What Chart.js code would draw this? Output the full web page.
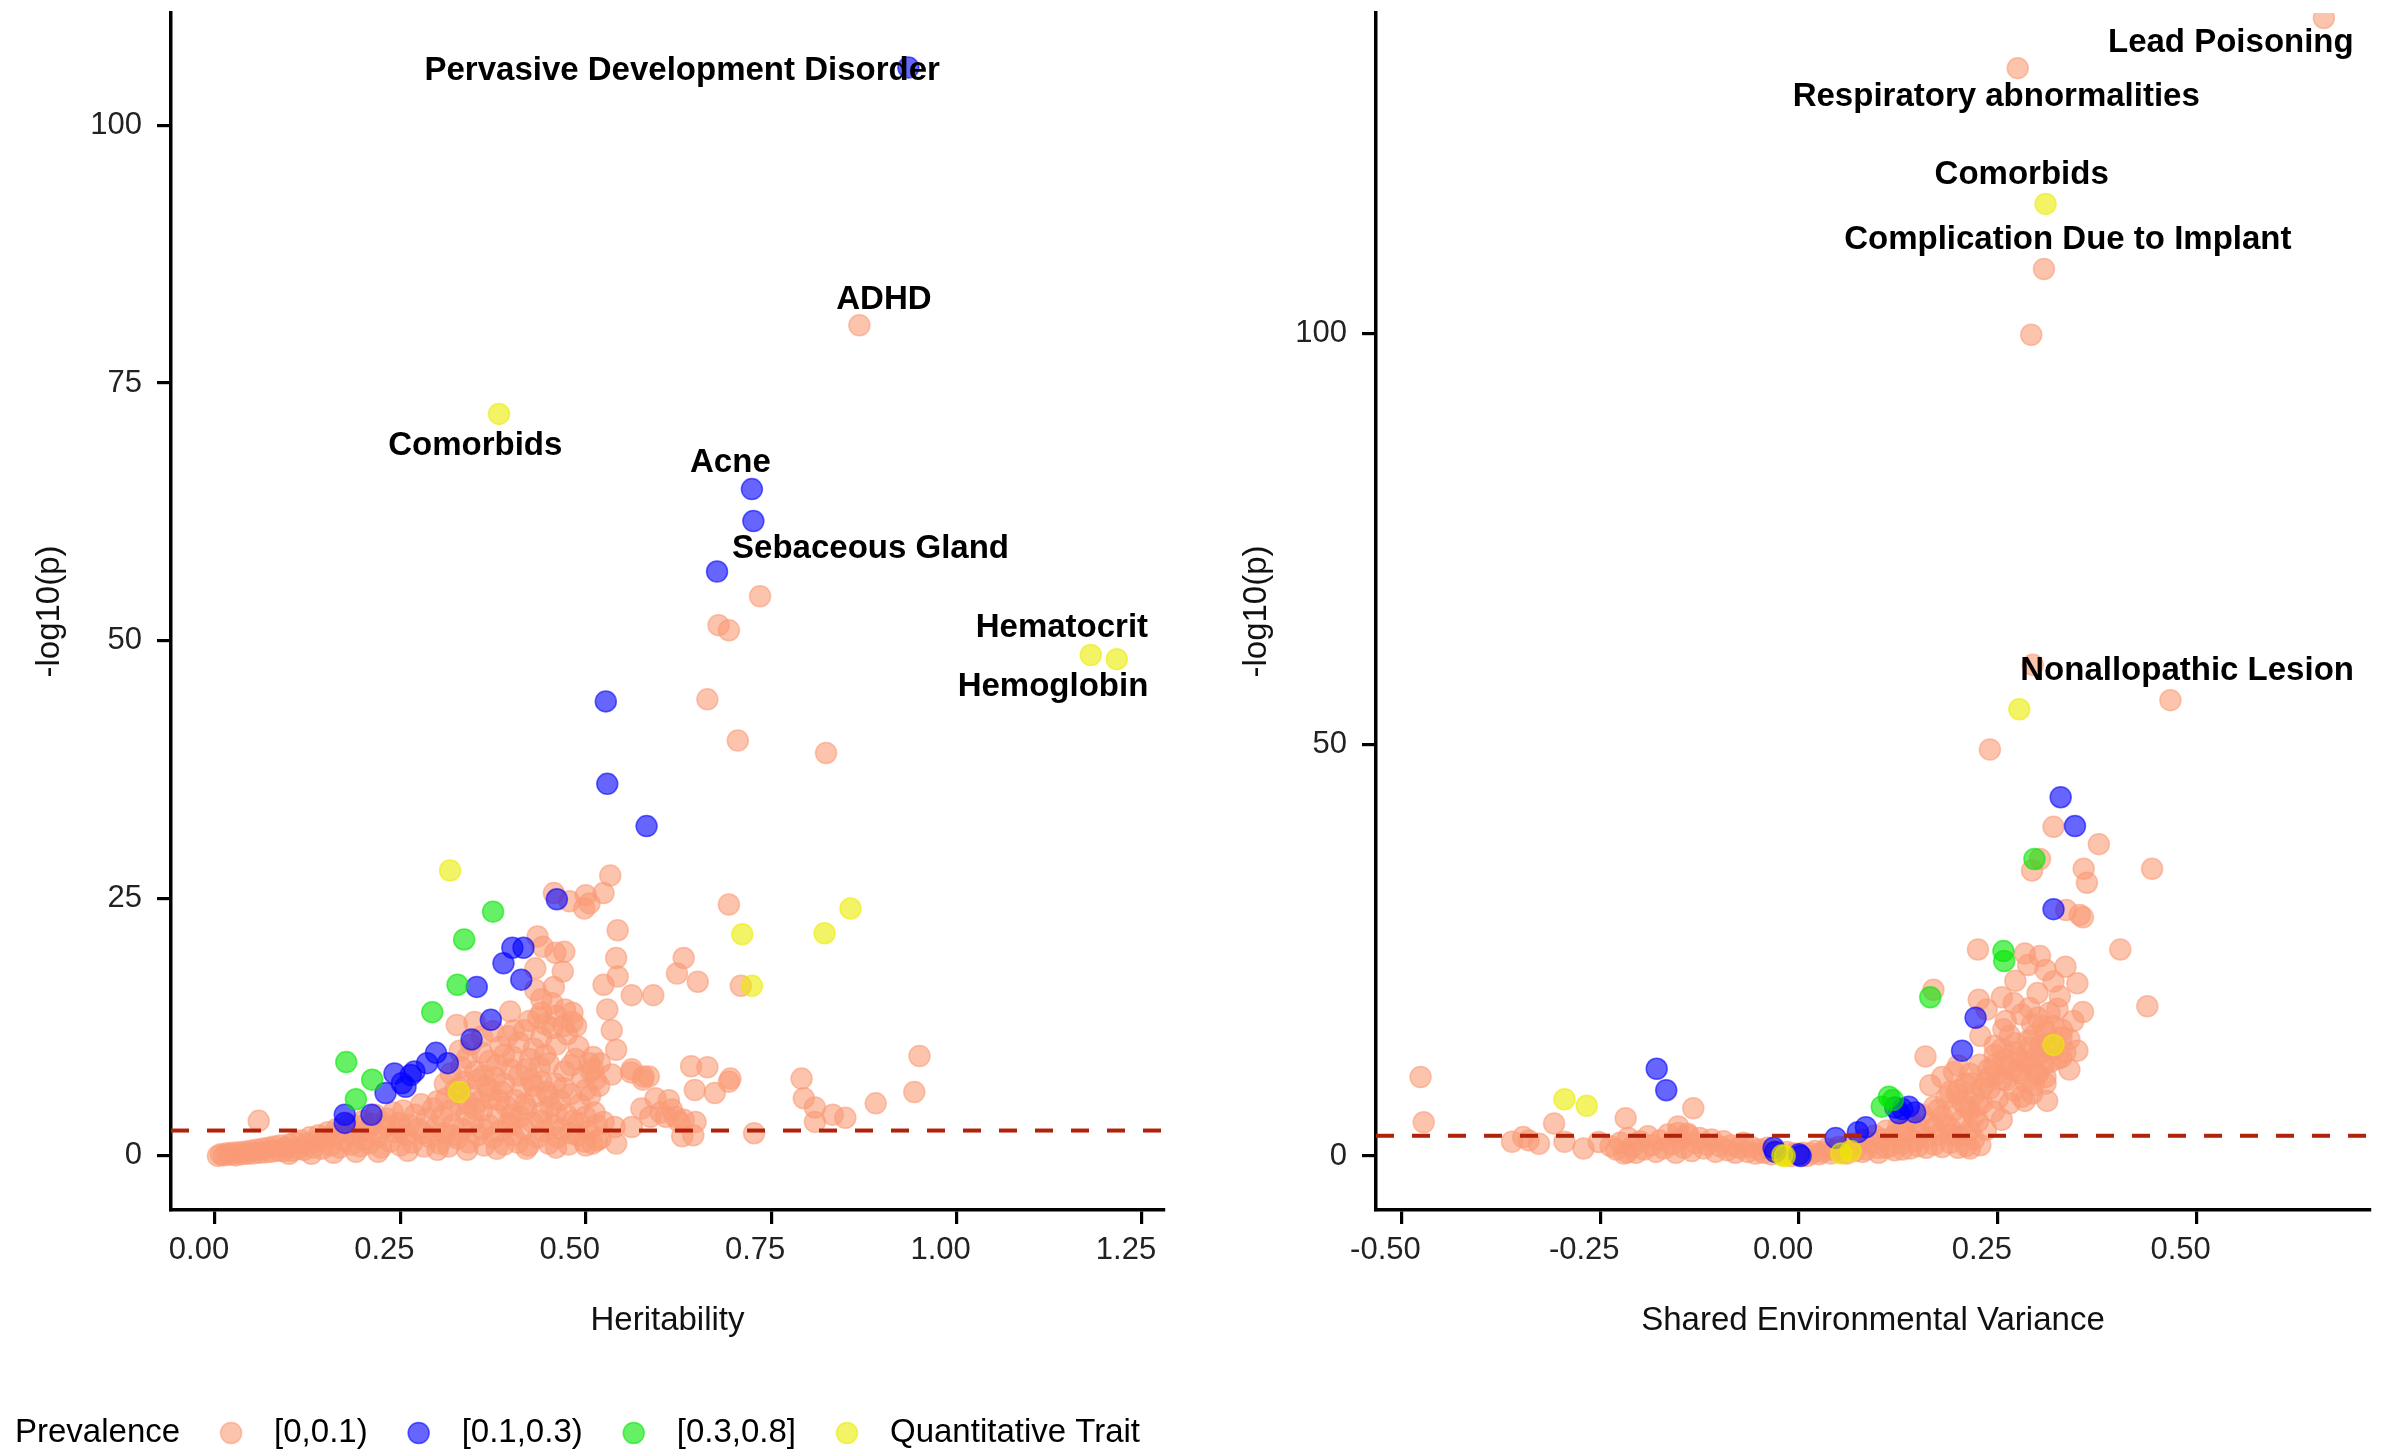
<!DOCTYPE html>
<html>
<head>
<meta charset="utf-8">
<script src="https://cdn.jsdelivr.net/npm/chart.js@4.4.0/dist/chart.umd.min.js"></script>
<style>
  html, body { margin: 0; padding: 0; background: #fff; }
  body { width: 2386px; height: 1453px; position: relative; overflow: hidden; }
  #left { position: absolute; left: 0; top: 0; }
  #right { position: absolute; left: 1190px; top: 0; }
</style>
</head>
<body>
<canvas id="left" width="1190" height="1453"></canvas>
<canvas id="right" width="1196" height="1360"></canvas>
<script>
// ---- data ----
const prevCategories = ["[0,0.1)", "[0.1,0.3)", "[0.3,0.8]", "Quantitative Trait"];
const legendTitle = "Prevalence";
const threshold = 2.46;

const heritTicksX = [0, 0.25, 0.5, 0.75, 1, 1.25];
const heritTicksY = [0, 25, 50, 75, 100];
const envTicksX = [-0.5, -0.25, 0, 0.25, 0.5];
const envTicksY = [0, 50, 100];

const heritRangeX = [-0.0593, 1.2797];
const heritRangeY = [-5.25, 110.9];
const envRangeX = [-0.532, 0.718];
const envRangeY = [-6.56, 138.9];

const heritLabelText = ["Pervasive Development Disorder", "ADHD", "Comorbids", "Acne", "Sebaceous Gland", "Hematocrit", "Hemoglobin"];
const heritLabelX = [0.630, 0.902, 0.351, 0.695, 0.884, 1.142, 1.130];
const heritLabelY = [105.3, 83.1, 68.9, 67.2, 58.9, 51.2, 45.5];

const envLabelText = ["Lead Poisoning", "Respiratory abnormalities", "Comorbids", "Complication Due to Implant", "Nonallopathic Lesion"];
const envLabelX = [0.543, 0.248, 0.280, 0.338, 0.488];
const envLabelY = [135.3, 128.7, 119.2, 111.3, 58.95];

// heritability panel, prevalence [0,0.1)
const herLow = [
  [0.869,80.6],[0.735,54.3],[0.679,51.5],[0.693,51.0],[0.664,44.3],[0.705,40.3],[0.824,39.1],[0.533,27.2],
  [0.457,25.5],[0.478,24.7],[0.500,25.3],[0.524,25.5],[0.498,24.0],[0.505,24.5],[0.693,24.4],[0.543,21.9],
  [0.435,21.3],[0.442,20.3],[0.459,19.7],[0.471,19.8],[0.432,18.2],[0.469,17.9],[0.457,16.4],[0.432,16.1],
  [0.541,19.2],[0.543,17.4],[0.524,16.6],[0.562,15.6],[0.591,15.6],[0.632,19.2],[0.623,17.7],[0.651,16.9],[0.709,16.5],
  [0.529,14.2],[0.535,12.2],[0.541,10.3],
  [0.455,14.8],[0.472,14.2],[0.482,13.9],[0.487,12.6],[0.44,13.9],[0.445,12.8],[0.436,13.4],[0.424,13.1],[0.398,14.0],[0.417,12.2],[0.403,12.2],
  [0.326,12.7],[0.35,13.0],[0.375,12.1],[0.34,9.5],[0.332,8.6],[0.36,10.0],[0.345,10.8],[0.37,9.2],[0.355,7.4],
  [0.385,10.6],[0.395,11.6],[0.38,8.8],[0.402,9.6],[0.43,10.4],[0.44,11.5],[0.425,9.4],[0.445,9.8],
  [0.46,10.8],[0.475,11.8],[0.49,10.6],[0.482,13.0],[0.455,12.4],
  [0.004,0.0],[0.008,0.15],[0.012,0.05],[0.016,0.25],[0.02,0.1],[0.024,0.3],[0.028,0.05],[0.032,0.35],[0.036,0.15],[0.04,0.4],[0.044,0.2],[0.048,0.5],[0.052,0.25],
  [0.056,0.6],[0.06,0.3],[0.064,0.7],[0.068,0.35],[0.072,0.8],[0.076,0.4],[0.08,0.9],[0.084,0.5],[0.088,1.0],[0.092,0.45],[0.096,0.8],[0.1,1.1],
  [0.104,0.5],[0.108,1.3],[0.112,0.7],[0.116,1.5],[0.12,0.6],[0.124,1.2],[0.128,1.8],[0.132,0.8],[0.136,1.4],[0.14,2.0],[0.144,0.7],[0.148,1.6],[0.152,2.3],
  [0.156,1.0],[0.16,1.9],[0.164,2.6],[0.168,0.8],[0.172,1.5],[0.176,2.4],[0.18,3.0],[0.184,1.1],[0.188,2.0],[0.192,2.9],[0.196,0.9],[0.2,1.6],[0.2,3.4],
  [0.204,2.4],[0.208,1.2],[0.212,3.1],[0.216,4.0],[0.22,1.9],[0.224,0.8],[0.228,2.7],[0.232,3.6],[0.236,1.4],[0.24,4.2],[0.244,2.3],[0.248,3.2],[0.25,1.0],
  [0.254,4.4],[0.258,2.0],[0.262,3.0],[0.266,1.3],[0.27,4.0],[0.274,2.6],[0.278,5.0],[0.282,0.9],[0.286,3.6],[0.29,1.8],[0.294,4.6],[0.298,2.8],[0.3,5.3],
  [0.303,1.2],[0.306,3.8],[0.309,2.2],[0.312,5.6],[0.315,0.9],[0.318,4.4],[0.321,3.0],[0.324,6.4],[0.327,1.7],[0.33,5.0],[0.333,2.6],[0.336,7.2],[0.339,4.0],
  [0.342,1.3],[0.345,6.0],[0.348,3.3],[0.351,8.2],[0.354,2.0],[0.357,5.3],
  [0.36,4.4],[0.363,1.0],[0.366,6.8],[0.369,3.0],[0.372,5.6],[0.375,1.8],[0.378,7.6],[0.381,4.0],[0.384,2.4],[0.387,6.2],[0.39,1.1],[0.393,4.8],[0.396,3.2],[0.399,8.4],
  [0.402,2.0],[0.405,5.4],[0.408,1.3],[0.411,3.8],[0.414,6.6],[0.417,2.6],[0.42,4.6],[0.423,1.0],[0.426,7.4],[0.429,3.2],[0.432,5.8],[0.435,1.8],[0.438,8.6],
  [0.441,4.2],[0.444,2.4],[0.447,6.2],
  [0.45,1.2],[0.453,4.8],[0.456,3.0],[0.459,7.0],[0.462,1.8],[0.465,5.4],[0.468,2.6],[0.471,8.2],[0.474,4.0],[0.477,1.1],[0.48,6.0],[0.483,3.4],[0.486,9.4],
  [0.489,2.0],[0.492,5.0],[0.495,7.6],[0.498,1.4],[0.5,3.8],
  [0.503,2.4],[0.506,5.8],[0.509,1.2],[0.512,4.2],[0.515,3.0],[0.518,6.8],[0.507,8.2],[0.513,7.4],[0.52,1.7],[0.51,9.6],
  [0.31,7.0],[0.318,8.0],[0.33,6.6],[0.34,5.2],[0.35,4.6],[0.362,7.8],[0.37,6.4],[0.383,5.4],[0.39,7.0],[0.4,4.0],
  [0.41,7.8],[0.418,5.0],[0.43,6.8],[0.44,7.2],[0.45,5.8],[0.46,4.2],[0.47,6.6],[0.48,8.8],[0.49,3.2],[0.5,6.4],
  [0.505,9.0],[0.33,10.2],[0.36,11.6],[0.39,9.8],[0.42,8.4],[0.45,9.0],[0.47,12.6],[0.44,15.2],[0.46,13.6],[0.41,11.0],
  [0.22,0.4],[0.26,0.5],[0.3,0.6],[0.34,0.6],[0.38,0.7],[0.42,0.7],[0.46,0.8],[0.5,1.0],[0.16,0.3],[0.19,0.4],[0.13,0.2],[0.1,0.2],
  [0.28,2.2],[0.32,2.0],[0.36,2.6],[0.4,3.0],[0.44,3.4],[0.48,2.2],[0.25,2.6],[0.23,3.0],
  [0.524,3.3],[0.539,2.8],[0.541,1.2],[0.515,1.5],[0.575,4.6],[0.562,2.8],[0.587,3.8],[0.519,9.0],[0.562,8.4],[0.578,7.7],[0.594,5.6],[0.601,4.2],
  [0.608,3.8],[0.632,3.5],[0.63,1.9],[0.642,8.7],[0.647,6.4],[0.535,7.9],[0.51,8.4],[0.561,8.1],[0.585,7.7],[0.577,7.4],
  [0.612,5.4],[0.616,4.5],[0.621,3.8],[0.626,3.3],[0.648,3.3],[0.645,2.0],[0.674,6.1],[0.693,7.2],[0.727,2.2],[0.794,5.6],[0.809,4.7],[0.809,3.3],
  [0.833,4.0],[0.85,3.7],[0.891,5.1],[0.943,6.2],[0.664,8.6],[0.695,7.5],[0.95,9.7],[0.791,7.5],[0.059,3.4]
];
const herMid = [
  [0.935,105.6],[0.724,64.7],[0.726,61.6],[0.677,56.7],[0.527,44.1],[0.529,36.1],[0.582,32.0],[0.461,24.9],
  [0.401,20.2],[0.416,20.2],[0.389,18.7],[0.413,17.1],[0.353,16.4],[0.372,13.2],[0.346,11.3],[0.298,10.0],
  [0.314,9.0],[0.286,9.0],[0.269,8.2],[0.264,7.85],[0.242,8.0],[0.252,7.05],[0.257,6.7],[0.23,6.1],
  [0.175,4.0],[0.175,3.2],[0.211,4.0]
];
const herHigh = [
  [0.375,23.7],[0.336,21.0],[0.327,16.6],[0.293,13.95],[0.177,9.1],[0.212,7.4],[0.19,5.5]
];
const herQuant = [
  [0.383,72.0],[1.181,48.6],[1.216,48.2],[0.317,27.7],[0.857,24.0],[0.711,21.5],[0.822,21.6],[0.724,16.5],[0.329,6.2]
];

// shared environment panel
const envLow = [
  [0.660,138.3],[0.275,132.2],[0.308,107.8],[0.292,99.8],[0.294,59.7],[0.467,55.4],[0.240,49.4],[0.320,40.0],[0.377,37.9],
  [0.303,36.1],[0.293,34.7],[0.358,34.9],[0.362,33.2],[0.444,34.9],[0.336,29.9],[0.353,29.3],[0.357,29.0],[0.404,25.1],
  [0.225,25.1],[0.284,24.6],[0.303,24.3],[0.288,23.2],[0.272,21.3],[0.169,20.2],[0.226,19.0],[0.255,19.3],[0.236,17.8],
  [0.328,19.4],[0.325,17.9],[0.357,17.5],[0.438,18.2],[0.159,12.1],[0.34,10.5],
  [0.293,16.0],[0.307,15.8],[0.331,15.3],[0.257,15.4],[0.265,14.6],[0.228,14.6],[0.272,13.7],[0.246,13.4],[0.288,14.0],[0.303,13.4],
  [0.246,12.3],[0.257,11.7],[0.298,12.0],[0.307,11.1],[0.300,10.0],[0.310,8.8],[0.293,7.6],[0.284,6.7],[0.312,6.7],[0.279,10.0],
  [0.238,10.5],[0.255,9.3],[0.227,11.1],[0.217,8.8],[0.198,7.6],
  [0.235,9.0],[0.245,11.0],[0.255,13.0],[0.265,10.6],[0.275,12.0],[0.285,11.4],[0.295,14.6],[0.3,16.8],[0.31,13.6],[0.32,15.8],
  [0.33,12.0],[0.34,14.2],[0.315,17.4],[0.345,16.4],[0.35,12.8],[0.26,16.4],[0.28,17.2],[0.27,18.6],[0.29,18.0],[0.3,19.8],
  [0.32,21.2],[0.31,22.6],[0.335,23.0],[0.35,21.0],
  [-0.476,9.6],[-0.472,4.1],[-0.308,3.96],[-0.218,4.6],[-0.133,5.8],[-0.361,1.74],[-0.347,2.3],[-0.327,1.5],[-0.295,1.74],
  [-0.271,0.9],[-0.252,1.7],[-0.237,1.2],[-0.216,0.45],[-0.152,3.6],[-0.152,2.8],[-0.34,1.9],[-0.14,2.7],
  [-0.23,0.8],[-0.225,1.6],[-0.22,0.3],[-0.215,2.2],[-0.21,1.1],[-0.205,0.4],[-0.2,1.8],[-0.195,0.8],[-0.19,2.4],[-0.185,1.3],
  [-0.18,0.5],[-0.175,1.9],[-0.17,0.9],[-0.165,2.6],[-0.16,1.4],[-0.155,0.4],[-0.15,2.0],[-0.145,1.0],[-0.14,2.5],[-0.135,0.6],
  [-0.13,1.6],[-0.125,2.2],[-0.12,0.9],[-0.115,1.4],[-0.11,2.0],[-0.105,0.5],[-0.1,1.2],[-0.095,1.8],[-0.09,0.7],[-0.085,1.3],
  [-0.08,0.4],[-0.075,1.0],[-0.07,1.6],[-0.065,0.5],[-0.06,1.1],[-0.055,0.3],[-0.05,0.8],[-0.045,0.4],[-0.04,1.0],[-0.035,0.2],
  [-0.03,0.6],[-0.025,0.3],[-0.02,0.1],[-0.015,0.5],[-0.01,0.0],[-0.005,0.3],[0.0,0.1],[0.005,0.4],[0.01,0.0],[0.015,0.3],
  [0.02,0.6],[0.025,0.2],[0.03,0.5],[0.035,0.9],[0.04,0.3],[0.045,0.7],[0.05,1.1],[0.055,0.4],[0.06,1.0],[0.065,1.5],
  [0.07,0.6],[0.075,1.3],[0.08,2.0],[0.085,0.8],[0.09,1.6],[0.095,2.5],[0.1,1.0],[0.105,2.0],[0.11,3.1],[0.115,1.3],
  [0.12,2.5],[0.125,3.6],[0.13,1.5],[0.135,2.9],[0.14,4.3],[0.145,1.8],[0.15,3.4],[0.155,5.0],[0.16,2.2],[0.165,4.0],
  [0.17,6.0],[0.175,2.6],[0.18,4.8],[0.185,7.0],[0.19,1.6],[0.19,3.4],[0.195,5.6],[0.165,8.6],[0.18,9.6],[0.195,10.2],
  [0.06,0.3],[0.08,0.5],[0.1,0.4],[0.12,0.7],[0.14,0.9],[0.16,1.0],[0.18,1.1],[0.2,1.0],[0.215,0.9],
  [0.11,1.0],[0.13,0.8],[0.15,1.2],[0.17,1.4],[0.19,2.6],[0.21,2.6],[0.17,3.4],[0.15,2.6],[0.13,3.2],[0.22,4.8],
  [0.21,6.0],[0.225,6.2],[0.23,8.2],[0.215,10.0],[0.2,11.0],[0.19,7.8],[0.175,5.6],[0.185,3.8],
  [0.2,8.0],[0.2,2.4],[0.205,4.4],[0.205,6.6],[0.21,1.2],[0.21,8.8],[0.215,3.2],[0.215,5.6],[0.22,2.0],[0.22,7.4],
  [0.225,4.2],[0.228,1.3],[0.23,6.4],[0.235,3.2],[0.24,8.2],[0.245,5.4],[0.25,7.0],[0.255,4.4],[0.26,9.2],[0.265,6.4],
  [0.27,8.0],[0.275,10.4],[0.28,7.2],[0.285,9.0],[0.29,11.2],[0.295,8.6],[0.3,10.0],[0.305,12.6],[0.31,9.6],[0.315,11.4],
  [0.32,13.0],[0.325,11.8],[0.33,14.4],[0.335,12.6],[0.31,15.0],[0.29,13.2],[0.28,11.6],[0.27,12.6],[0.26,11.0],[0.25,10.0],[0.24,9.6]
];
const envMid = [
  [0.329,43.6],[0.347,40.1],[0.320,30.0],[0.222,16.8],[0.205,12.8],[-0.179,10.6],[-0.167,8.0],
  [0.121,5.9],[0.138,6.0],[0.146,5.3],[0.126,5.2],[0.13,5.7],[-0.032,1.0],[-0.03,0.5],[0.0,0.2],[0.002,0.0],
  [0.046,2.2],[0.074,2.9],[0.084,3.5]
];
const envHigh = [
  [0.296,36.1],[0.257,24.9],[0.258,23.7],[0.165,19.3],[0.113,7.2],[0.118,6.8],[0.104,6.0]
];
const envQuant = [
  [0.310,115.7],[0.277,54.3],[0.320,13.5],[-0.295,6.9],[-0.267,6.1],[-0.021,0.1],[-0.018,0.0],[0.053,0.3],[0.065,0.6]
];

// ---- styling ----
const FONT = '"Liberation Sans", Arial, Helvetica, sans-serif';
const prevColors = ["rgba(250,155,118,0.6)", "rgba(0,0,255,0.6)", "rgba(0,230,0,0.6)", "rgba(235,235,0,0.6)"];
const dotRadius = 10.5;

function toXY(arr) {
  return arr.map(p => ({ x: p[0], y: p[1] }));
}

function pointSet(label, arr, color) {
  return {
    label: label,
    data: toXY(arr),
    backgroundColor: color,
    borderColor: color,
    borderWidth: 1.5,
    pointRadius: dotRadius,
    clip: 0
  };
}

function thresholdLine(xr) {
  return {
    type: "line",
    label: "threshold",
    data: [{ x: xr[0], y: threshold }, { x: xr[1], y: threshold }],
    borderColor: "#B2210A",
    borderWidth: 4,
    borderDash: [18, 18],
    pointRadius: 0,
    fill: false
  };
}

function makeScales(xr, yr, xTicks, yTicks, xTitle, yWidth, yTitlePad) {
  const tickGrid = {
    drawOnChartArea: false, drawTicks: true, tickLength: 14,
    tickWidth: 3.2, tickColor: "#000", color: "#000", lineWidth: 3.2
  };
  return {
    x: {
      type: "linear", min: xr[0], max: xr[1],
      afterBuildTicks: s => { s.ticks = xTicks.map(v => ({ value: v })); },
      afterFit: s => { s.height = 131; s.paddingLeft = 0; s.paddingRight = 0; },
      border: { display: true, color: "#000", width: 3.5 },
      grid: tickGrid,
      ticks: {
        color: "#222", font: { family: FONT, size: 31 }, padding: 8,
        labelOffset: -16, maxRotation: 0, autoSkip: false,
        callback: v => v.toFixed(2)
      },
      title: { display: true, text: xTitle, color: "#111", font: { family: FONT, size: 33 }, padding: 0 }
    },
    y: {
      type: "linear", min: yr[0], max: yr[1],
      afterBuildTicks: s => { s.ticks = yTicks.map(v => ({ value: v })); },
      afterFit: s => { s.width = yWidth; s.paddingTop = 0; s.paddingBottom = 0; },
      border: { display: true, color: "#000", width: 3.5 },
      grid: tickGrid,
      ticks: {
        color: "#222", font: { family: FONT, size: 31 }, padding: 15, autoSkip: false,
        callback: v => String(v)
      },
      title: { display: true, text: "-log10(p)", color: "#111", font: { family: FONT, size: 33 }, padding: { top: yTitlePad, bottom: 0 } }
    }
  };
}

const textLabels = {
  id: "textLabels",
  afterDatasetsDraw(chart, args, opts) {
    const { ctx, scales: { x, y } } = chart;
    ctx.save();
    ctx.font = "bold 33px " + FONT;
    ctx.fillStyle = "#000";
    ctx.textAlign = "center";
    ctx.textBaseline = "middle";
    opts.text.forEach((t, i) => {
      ctx.fillText(t, x.getPixelForValue(opts.xs[i]), y.getPixelForValue(opts.ys[i]));
    });
    ctx.restore();
  }
};

const prevLegend = {
  id: "prevLegend",
  afterDraw(chart, args, opts) {
    if (!opts.show) return;
    const ctx = chart.ctx;
    const y = 1433;
    let x = 15;
    ctx.save();
    ctx.font = "33px " + FONT;
    ctx.textBaseline = "middle";
    ctx.textAlign = "left";
    ctx.fillStyle = "#000";
    ctx.fillText(legendTitle, x, y);
    x += ctx.measureText(legendTitle).width + 51;
    prevCategories.forEach((cat, i) => {
      ctx.beginPath();
      ctx.arc(x, y, dotRadius, 0, Math.PI * 2);
      ctx.fillStyle = prevColors[i];
      ctx.fill();
      ctx.lineWidth = 1.5;
      ctx.strokeStyle = prevColors[i];
      ctx.stroke();
      x += 43;
      ctx.fillStyle = "#000";
      ctx.fillText(cat, x, y);
      x += ctx.measureText(cat).width + 51;
    });
    ctx.restore();
  }
};

function buildChart(id, cfg) {
  return new Chart(document.getElementById(id), {
    type: "scatter",
    data: {
      datasets: [
        thresholdLine(cfg.xr),
        pointSet(prevCategories[3], cfg.sets[3], prevColors[3]),
        pointSet(prevCategories[2], cfg.sets[2], prevColors[2]),
        pointSet(prevCategories[1], cfg.sets[1], prevColors[1]),
        pointSet(prevCategories[0], cfg.sets[0], prevColors[0])
      ]
    },
    options: {
      responsive: false,
      animation: false,
      events: [],
      layout: { padding: cfg.padding },
      scales: makeScales(cfg.xr, cfg.yr, cfg.xTicks, cfg.yTicks, cfg.xTitle, cfg.yWidth, cfg.yTitlePad),
      plugins: {
        legend: { display: false },
        tooltip: { enabled: false },
        textLabels: { text: cfg.labels[0], xs: cfg.labels[1], ys: cfg.labels[2] },
        prevLegend: { show: cfg.legend }
      }
    },
    plugins: [textLabels, prevLegend]
  });
}

buildChart("left", {
  xr: heritRangeX, yr: heritRangeY, xTicks: heritTicksX, yTicks: heritTicksY,
  xTitle: "Heritability", yWidth: 171, yTitlePad: 30,
  padding: { left: 0, right: 26, top: 13, bottom: 112 },
  sets: [herLow, herMid, herHigh, herQuant],
  labels: [heritLabelText, heritLabelX, heritLabelY],
  legend: true
});

buildChart("right", {
  xr: envRangeX, yr: envRangeY, xTicks: envTicksX, yTicks: envTicksY,
  xTitle: "Shared Environmental Variance", yWidth: 186, yTitlePad: 47,
  padding: { left: 0, right: 16, top: 13, bottom: 19 },
  sets: [envLow, envMid, envHigh, envQuant],
  labels: [envLabelText, envLabelX, envLabelY],
  legend: false
});
</script>
</body>
</html>
